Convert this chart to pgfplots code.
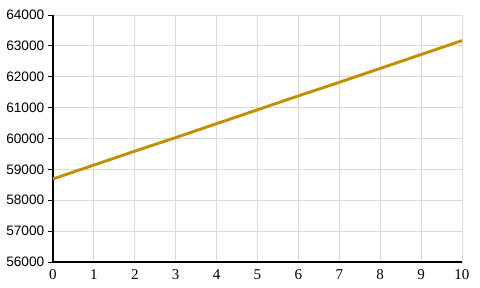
\documentclass[border=0pt]{standalone}
\usepackage{fontspec}
\setmainfont{Liberation Serif}
\setsansfont{Liberation Sans}
\usepackage{pgfplots}
\pgfplotsset{compat=1.18}
\definecolor{linegold}{RGB}{192,144,0}
\definecolor{gridgray}{RGB}{218,218,218}
\begin{document}
\begin{tikzpicture}
\useasboundingbox (-39.75pt,-19.5pt) rectangle (320.25pt,196.5pt);
\begin{axis}[
  scale only axis,
  width=306.75pt, height=185.25pt,
  xmin=0, xmax=10, ymin=56000, ymax=64000,
  xtick={0,1,...,10},
  ytick={56000,57000,...,64000},
  scaled ticks=false,
  axis lines*=left,
  axis line style={black, line width=0.8pt},
  grid=major,
  major grid style={gridgray, line width=0.6pt},
  tick align=outside,
  xtick style={draw=none},
  ytick style={black, line width=0.6pt},
  major tick length=4pt,
  /pgf/number format/assume math mode=true,
  /pgf/number format/1000 sep={},
  /pgf/number format/fixed,
  xticklabel style={font=\rmfamily\fontsize{11.25}{13}\selectfont, yshift=2pt},
  yticklabel style={font=\sffamily\fontsize{10.25}{12}\selectfont, xshift=1pt},
  clip=false,
]
\addplot[linegold, line width=2.2pt, line join=round] coordinates {
(0,58690) (1,59140) (2,59590) (3,60030) (4,60480) (5,60930) (6,61380) (7,61820) (8,62270) (9,62720) (10,63170)
};
\end{axis}
\end{tikzpicture}
\end{document}
